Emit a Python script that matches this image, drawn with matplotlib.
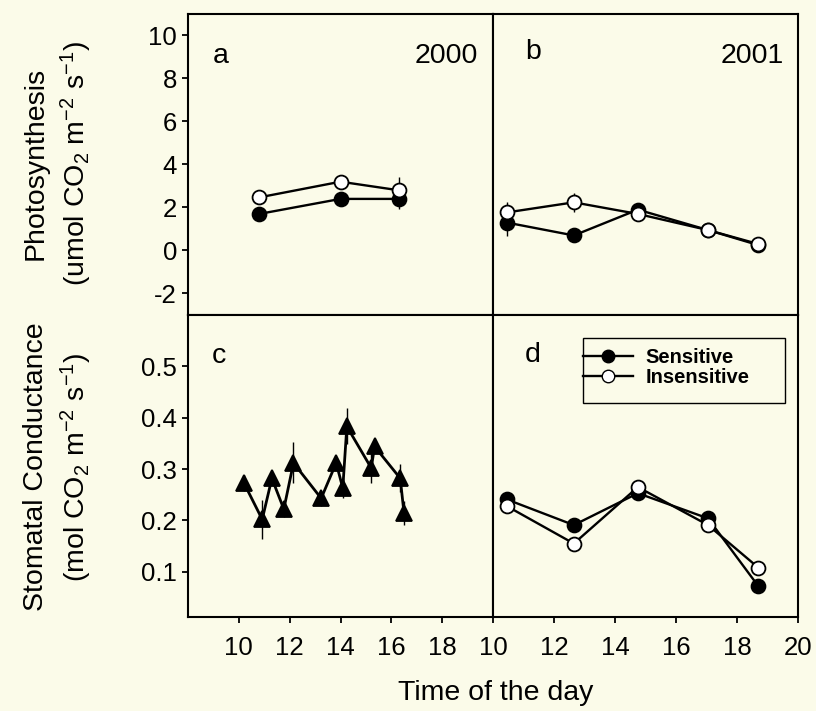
import matplotlib
matplotlib.use("Agg")
import matplotlib.pyplot as plt
from matplotlib.patches import Rectangle
from matplotlib.lines import Line2D

plt.rcParams['font.family'] = ['Liberation Sans', 'DejaVu Sans']
plt.rcParams['mathtext.fontset'] = 'custom'
plt.rcParams['mathtext.rm'] = 'Liberation Sans'
plt.rcParams['mathtext.it'] = 'Liberation Sans:italic'
plt.rcParams['mathtext.bf'] = 'Liberation Sans:bold'
plt.rcParams['axes.unicode_minus'] = False

# ---- panel a: photosynthesis, 2000 ----
time_a = [10.8, 14.0, 16.3]
photo_a_sens = [1.7, 2.4, 2.4]
photo_a_sens_err = [0.1, 0.1, 0.45]
photo_a_ins = [2.47, 3.2, 2.8]
photo_a_ins_err = [0.1, 0.1, 0.6]

# ---- panel b: photosynthesis, 2001 ----
time_b = [10.45, 12.65, 14.75, 17.05, 18.7]
photo_b_sens = [1.3, 0.7, 1.9, 0.95, 0.25]
photo_b_sens_err = [0.62, 0.1, 0.1, 0.1, 0.1]
photo_b_ins = [1.77, 2.24, 1.7, 0.95, 0.3]
photo_b_ins_err = [0.47, 0.45, 0.1, 0.1, 0.1]

# ---- panel c: stomatal conductance, 2000 ----
time_c = [10.2, 10.92, 11.3, 11.77, 12.15, 13.24, 13.83, 14.09, 14.25,
          15.21, 15.34, 16.35, 16.5]
gs_c = [0.273, 0.202, 0.282, 0.222, 0.312, 0.243, 0.312, 0.263, 0.383,
        0.302, 0.344, 0.282, 0.214]
gs_c_err = [0.015, 0.038, 0.01, 0.015, 0.04, 0.015, 0.01, 0.02, 0.035,
            0.03, 0.01, 0.027, 0.023]

# ---- panel d: stomatal conductance, 2001 ----
time_d = [10.45, 12.65, 14.75, 17.05, 18.7]
gs_d_sens = [0.241, 0.191, 0.253, 0.204, 0.072]
gs_d_ins = [0.228, 0.155, 0.265, 0.191, 0.108]

series_labels = ['Sensitive', 'Insensitive']
xticks_left = [10, 12, 14, 16, 18]
xticks_right = [10, 12, 14, 16, 18, 20]
yticks_photo = [-2, 0, 2, 4, 6, 8, 10]
yticks_gs = [0.1, 0.2, 0.3, 0.4, 0.5]

BG = '#FBFBE9'
W, H = 816, 711
fig = plt.figure(figsize=(W / 100, H / 100), dpi=100, facecolor=BG)


def px_axes(x0, y0, x1, y1):
    return fig.add_axes([x0 / W, 1 - y1 / H, (x1 - x0) / W, (y1 - y0) / H])


ax_a = px_axes(188, 14, 493, 315)
ax_b = px_axes(493, 14, 798, 315)
ax_c = px_axes(188, 315, 493, 617)
ax_d = px_axes(493, 315, 798, 617)

TICK_FS = 18.5
for ax in (ax_a, ax_b, ax_c, ax_d):
    ax.set_facecolor(BG)
    for s in ax.spines.values():
        s.set_linewidth(1.5)
        s.set_color('black')
    ax.tick_params(direction='out', length=4, width=1.3, labelsize=TICK_FS,
                   colors='black')

line_kw = dict(color='black', lw=1.7, ms=10, mec='black', mew=1.3,
               elinewidth=1.0, ecolor='black', capsize=0)

# panel a
ax_a.errorbar(time_a, photo_a_sens, yerr=photo_a_sens_err, marker='o',
              mfc='black', **line_kw)
ax_a.errorbar(time_a, photo_a_ins, yerr=photo_a_ins_err, marker='o',
              mfc='white', **line_kw)
# panel b
ax_b.errorbar(time_b, photo_b_sens, yerr=photo_b_sens_err, marker='o',
              mfc='black', **line_kw)
ax_b.errorbar(time_b, photo_b_ins, yerr=photo_b_ins_err, marker='o',
              mfc='white', **line_kw)
# panel c
ax_c.errorbar(time_c, gs_c, yerr=gs_c_err, marker='^', mfc='black',
              **{**line_kw, 'ms': 11, 'lw': 2.0})
# panel d
ax_d.plot(time_d, gs_d_sens, marker='o', mfc='black', color='black',
          lw=1.7, ms=10, mew=1.3, mec='black')
ax_d.plot(time_d, gs_d_ins, marker='o', mfc='white', color='black',
          lw=1.7, ms=10, mew=1.3, mec='black')

# limits and ticks
for ax in (ax_a, ax_b):
    ax.set_ylim(-3, 11)
for ax in (ax_c, ax_d):
    ax.set_ylim(0.012, 0.6)
for ax in (ax_a, ax_c):
    ax.set_xlim(8, 20)
for ax in (ax_b, ax_d):
    ax.set_xlim(10, 20)

ax_a.set_yticks(yticks_photo)
ax_c.set_yticks(yticks_gs)
ax_c.set_yticklabels([f'{v:.1f}' for v in yticks_gs])
for ax in (ax_b, ax_d):
    ax.set_yticks([])
for ax in (ax_a, ax_b):
    ax.set_xticks([])
ax_c.set_xticks(xticks_left)
ax_d.set_xticks(xticks_right)
for ax in (ax_a, ax_c):
    ax.tick_params(axis='y', pad=4)
for ax in (ax_c, ax_d):
    ax.tick_params(axis='x', pad=10)

# panel tags
TAG_FS = 20.5
ax_a.text(0.082, 0.837, 'a', transform=ax_a.transAxes, fontsize=TAG_FS,
          va='baseline', ha='left')
ax_a.text(0.951, 0.837, '2000', transform=ax_a.transAxes, fontsize=TAG_FS,
          va='baseline', ha='right')
ax_b.text(0.105, 0.85, 'b', transform=ax_b.transAxes, fontsize=TAG_FS,
          va='baseline', ha='left')
ax_b.text(0.955, 0.837, '2001', transform=ax_b.transAxes, fontsize=TAG_FS,
          va='baseline', ha='right')
ax_c.text(0.078, 0.841, 'c', transform=ax_c.transAxes, fontsize=TAG_FS,
          va='baseline', ha='left')
ax_d.text(0.105, 0.844, 'd', transform=ax_d.transAxes, fontsize=TAG_FS,
          va='baseline', ha='left')

# legend in panel d
ax_d.add_patch(Rectangle((0.295, 0.709), 0.957 - 0.295, 0.924 - 0.709,
                         transform=ax_d.transAxes, fill=False,
                         edgecolor='black', lw=1.0, zorder=5))
handles = [
    Line2D([], [], color='black', lw=1.7, marker='o', ms=9, mfc='black',
           mec='black'),
    Line2D([], [], color='black', lw=1.7, marker='o', ms=9, mfc='white',
           mec='black'),
]
ax_d.legend(handles, series_labels, loc='upper left',
            bbox_to_anchor=(0.295, 0.892), bbox_transform=ax_d.transAxes,
            frameon=False, borderpad=0, borderaxespad=0, handlelength=2.5,
            handletextpad=0.6, labelspacing=0.05,
            prop={'size': 14.5, 'weight': 'bold'})

# axis titles
LAB_FS = 20.5
fig.text(36 / W, 1 - 163 / H, 'Photosynthesis', rotation=90, ha='center',
         va='center', fontsize=LAB_FS)
fig.text(76 / W, 1 - 163 / H, r'(umol CO$_2$ m$^{-2}$ s$^{-1}$)',
         rotation=90, ha='center', va='center', fontsize=LAB_FS)
fig.text(36 / W, 1 - 467 / H, 'Stomatal Conductance', rotation=90,
         ha='center', va='center', fontsize=LAB_FS)
fig.text(76 / W, 1 - 467 / H, r'(mol CO$_2$ m$^{-2}$ s$^{-1}$)',
         rotation=90, ha='center', va='center', fontsize=LAB_FS)
fig.text(496 / W, 1 - 693 / H, 'Time of the day', ha='center', va='center',
         fontsize=20.5)

fig.savefig('out.png', dpi=100, facecolor=BG)
